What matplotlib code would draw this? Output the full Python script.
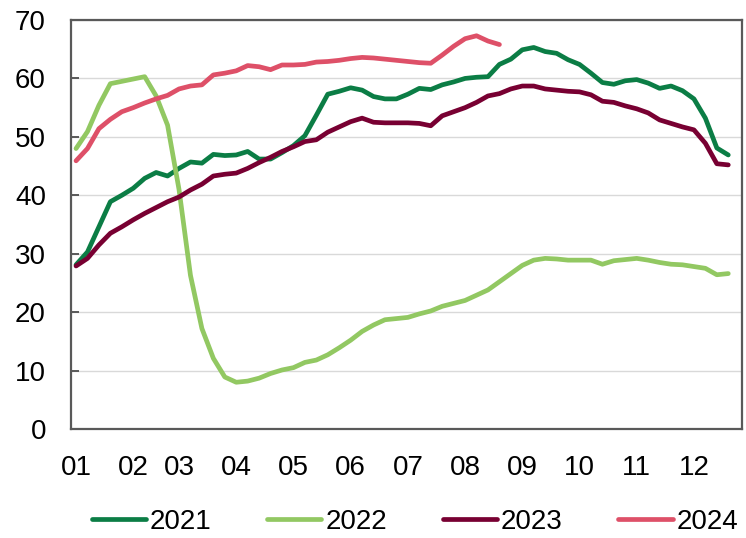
import numpy as np
import matplotlib
matplotlib.use('Agg')
import matplotlib.pyplot as plt

plt.rcParams['font.family'] = ['Liberation Sans', 'DejaVu Sans']

# readings, ~58 points per year (about 5 per month)
y2021 = [28.1, 30.3, 34.6, 38.9, 40.0, 41.2, 42.9, 43.9, 43.3, 44.6, 45.7, 45.5, 47.0, 46.8, 46.9,
         47.5, 46.2, 46.2, 47.3, 48.5, 50.2, 53.7, 57.3, 57.8, 58.4, 58.0, 56.9, 56.5, 56.5,
         57.3, 58.3, 58.1, 58.9, 59.4, 60.0, 60.2, 60.3, 62.4, 63.3, 64.9, 65.3, 64.6, 64.3,
         63.2, 62.4, 60.9, 59.3, 59.0, 59.6, 59.8, 59.2, 58.3, 58.7, 57.9, 56.5, 53.2, 48.1, 46.9]
y2022 = [48.0, 50.9, 55.4, 59.1, 59.5, 59.9, 60.3, 57.0, 52.0, 41.0, 26.3, 17.2, 12.1, 8.9, 8.0,
         8.2, 8.7, 9.5, 10.1, 10.5, 11.4, 11.8, 12.7, 13.9, 15.2, 16.7, 17.8, 18.7, 18.9,
         19.1, 19.7, 20.2, 21.0, 21.5, 22.0, 22.9, 23.8, 25.2, 26.6, 28.0, 28.9, 29.2, 29.1,
         28.9, 28.9, 28.9, 28.2, 28.8, 29.0, 29.2, 28.9, 28.5, 28.2, 28.1, 27.8, 27.5, 26.4, 26.6]
y2023 = [27.9, 29.2, 31.5, 33.5, 34.6, 35.8, 36.9, 37.9, 38.9, 39.7, 40.9, 41.9, 43.3, 43.6, 43.8,
         44.6, 45.6, 46.5, 47.5, 48.3, 49.2, 49.5, 50.8, 51.7, 52.6, 53.2, 52.5, 52.4, 52.4,
         52.4, 52.3, 51.9, 53.6, 54.3, 55.0, 55.9, 57.0, 57.4, 58.2, 58.7, 58.7, 58.2, 58.0,
         57.8, 57.7, 57.2, 56.1, 55.9, 55.3, 54.8, 54.1, 52.9, 52.3, 51.7, 51.2, 48.9, 45.4, 45.2]
y2024 = [45.9, 48.0, 51.4, 53.0, 54.3, 55.0, 55.8, 56.5, 57.1, 58.2, 58.7, 58.9, 60.6, 60.9, 61.3,
         62.2, 62.0, 61.5, 62.3, 62.3, 62.4, 62.8, 62.9, 63.1, 63.4, 63.6, 63.5, 63.3, 63.1,
         62.9, 62.7, 62.6, 64.0, 65.5, 66.8, 67.3, 66.4, 65.8]

month_labels = ['01', '02', '03', '04', '05', '06', '07', '08', '09', '10', '11', '12']
month_start = [0, 5, 9, 14, 19, 24, 29, 34, 39, 44, 49, 54]  # index of first point in month

series = [('2021', y2021, '#0B7D45'),
          ('2022', y2022, '#92C862'),
          ('2023', y2023, '#780032'),
          ('2024', y2024, '#DE5068')]

fontSize = 20
gray = '#595959'

fig = plt.figure(figsize=(7.46, 5.38), dpi=100)
ax = fig.add_axes([71/746, 1 - 429/538, (742-71)/746, (429-20)/538])

for name, vals, col in series:
    ax.plot(np.arange(len(vals)), vals, color=col, lw=3.4, label=name,
            solid_capstyle='round', solid_joinstyle='round')

ax.set_xlim(-0.44, 58.2)
ax.set_ylim(0, 70)
ax.set_yticks(range(0, 71, 10))
ax.set_xticks(month_start)
ax.set_xticklabels(month_labels)

ax.grid(axis='y', color='#D9D9D9', lw=1.0)
ax.set_axisbelow(True)
for sp in ax.spines.values():
    sp.set_color(gray)
    sp.set_linewidth(1.6)

ax.tick_params(axis='y', direction='in', length=6, width=1.4, color=gray,
               labelsize=fontSize, pad=18)
ax.tick_params(axis='x', length=0, labelsize=fontSize, pad=19)

fig.legend(loc='center', bbox_to_anchor=(415/746, 1 - 522/538), ncol=4, frameon=False,
           fontsize=fontSize, handlelength=1.95, handletextpad=0.15, columnspacing=2.0,
           borderaxespad=0, borderpad=0)

plt.savefig('out.png', dpi=100)
plt.close()
